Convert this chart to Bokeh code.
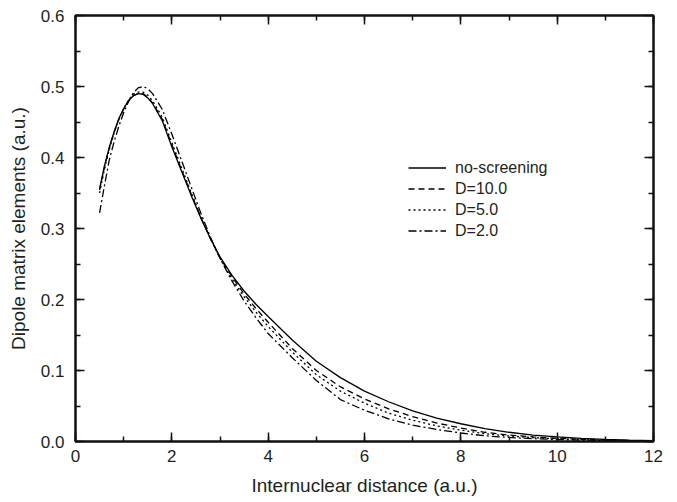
from bokeh.plotting import figure
from bokeh.models import (Range1d, LinearAxis, FixedTicker, Legend, LegendItem,
                          CustomJSTickFormatter, PrintfTickFormatter)
from bokeh.embed import file_html
from bokeh.resources import INLINE

# ---------------- data ----------------
r = [0.5, 0.6, 0.7, 0.8, 0.9, 1.0, 1.1, 1.2, 1.3, 1.4, 1.5, 1.6, 1.8, 2.0, 2.2, 2.4,
     2.6, 2.8, 3.0, 3.25, 3.5, 3.75, 4.0, 4.5, 5.0, 5.5, 6.0, 6.5, 7.0, 7.5, 8.0, 8.5,
     9.0, 9.5, 10.0, 10.5, 11.0, 11.5, 12.0]

no_screening = [0.356, 0.388, 0.414, 0.436, 0.455, 0.469, 0.480, 0.487, 0.490, 0.489,
                0.484, 0.476, 0.452, 0.415, 0.381, 0.347, 0.315, 0.286, 0.260, 0.234,
                0.212, 0.193, 0.176, 0.143, 0.113, 0.090, 0.071, 0.056, 0.043, 0.033,
                0.025, 0.018, 0.013, 0.009, 0.0065, 0.0045, 0.003, 0.002, 0.0013]

d10 = [0.354, 0.386, 0.413, 0.435, 0.454, 0.468, 0.479, 0.487, 0.490, 0.490,
       0.485, 0.477, 0.454, 0.418, 0.383, 0.349, 0.316, 0.286, 0.259, 0.232,
       0.208, 0.187, 0.168, 0.131, 0.100, 0.077, 0.060, 0.046, 0.035, 0.026,
       0.019, 0.013, 0.009, 0.0065, 0.0045, 0.003, 0.002, 0.0013, 0.0008]

d5 = [0.350, 0.383, 0.411, 0.434, 0.454, 0.469, 0.481, 0.489, 0.492, 0.492,
      0.488, 0.480, 0.457, 0.421, 0.386, 0.351, 0.317, 0.286, 0.258, 0.229,
      0.204, 0.182, 0.162, 0.126, 0.094, 0.071, 0.054, 0.040, 0.030, 0.022,
      0.016, 0.011, 0.0078, 0.0055, 0.0038, 0.0026, 0.0018, 0.0012, 0.0008]

d2 = [0.322, 0.360, 0.396, 0.422, 0.444, 0.463, 0.479, 0.491, 0.498, 0.500,
      0.497, 0.490, 0.468, 0.433, 0.396, 0.359, 0.322, 0.288, 0.258, 0.226,
      0.198, 0.174, 0.152, 0.118, 0.086, 0.059, 0.044, 0.032, 0.023, 0.017,
      0.012, 0.008, 0.0057, 0.004, 0.0028, 0.002, 0.0013, 0.0009, 0.0006]

labels = ["no-screening", "D=10.0", "D=5.0", "D=2.0"]
x_ticks = [0, 2, 4, 6, 8, 10, 12]
y_ticks = [0.0, 0.1, 0.2, 0.3, 0.4, 0.5, 0.6]

# ---------------- styling ----------------
FONT = "Liberation Sans"
TXT = "#231f20"

p = figure(output_backend="svg", toolbar_location=None,
           frame_width=578, frame_height=426,
           min_border_left=75, min_border_right=14, min_border_top=15, min_border_bottom=55,
           x_range=Range1d(0, 12), y_range=Range1d(0, 0.6),
           x_axis_label="Internuclear distance (a.u.)",
           y_axis_label="Dipole matrix elements (a.u.)")
p.grid.visible = False
p.outline_line_color = "#111111"
p.outline_line_width = 2
p.background_fill_color = "white"
p.border_fill_color = "white"

def style_axis(ax, ticks, minor):
    ax.ticker = FixedTicker(ticks=ticks, minor_ticks=minor)
    ax.axis_line_width = 2
    ax.axis_line_color = "#111111"
    ax.major_tick_in = 9
    ax.major_tick_out = 0
    ax.minor_tick_in = 5
    ax.minor_tick_out = 0
    ax.major_tick_line_width = 1.5
    ax.minor_tick_line_width = 1.5
    ax.major_tick_line_color = "#111111"
    ax.minor_tick_line_color = "#111111"
    ax.major_label_text_font = FONT
    ax.major_label_text_font_size = "17px"
    ax.major_label_text_color = TXT
    ax.axis_label_text_font = FONT
    ax.axis_label_text_font_size = "19px"
    ax.axis_label_text_font_style = "normal"
    ax.axis_label_text_color = TXT

x_minor = [i for i in range(0, 13)]
y_minor = [i * 0.05 for i in range(0, 13)]

style_axis(p.xaxis[0], x_ticks, x_minor)
style_axis(p.yaxis[0], y_ticks, y_minor)
p.yaxis[0].formatter = PrintfTickFormatter(format="%.1f")
p.xaxis[0].major_label_standoff = 8
p.xaxis[0].axis_label_standoff = 10
p.yaxis[0].major_label_standoff = 11
p.yaxis[0].axis_label_standoff = 9

blank = CustomJSTickFormatter(code="return '';")
top = LinearAxis()
right = LinearAxis()
style_axis(top, x_ticks, x_minor)
style_axis(right, y_ticks, y_minor)
top.formatter = blank
right.formatter = blank
top.major_label_text_font_size = "1px"
right.major_label_text_font_size = "1px"
top.major_label_standoff = 0
right.major_label_standoff = 0
p.add_layout(top, "above")
p.add_layout(right, "right")

lw = 1.3
r0 = p.line(r, no_screening, line_color="black", line_width=lw)
r1 = p.line(r, d10, line_color="black", line_width=lw, line_dash="6 4")
r2 = p.line(r, d5, line_color="black", line_width=lw, line_dash="2 3")
r3 = p.line(r, d2, line_color="black", line_width=lw, line_dash="8 3 2 3")

legend = Legend(items=[LegendItem(label=labels[0], renderers=[r0]),
                       LegendItem(label=labels[1], renderers=[r1]),
                       LegendItem(label=labels[2], renderers=[r2]),
                       LegendItem(label=labels[3], renderers=[r3])],
                location=(333, 200), border_line_color=None, background_fill_alpha=0,
                padding=0, margin=0, spacing=0,
                glyph_width=38, glyph_height=21, label_height=21,
                label_standoff=9,
                label_text_font=FONT, label_text_font_size="16px", label_text_color=TXT)
p.add_layout(legend)

open("out.html", "w").write(file_html(p, INLINE))
